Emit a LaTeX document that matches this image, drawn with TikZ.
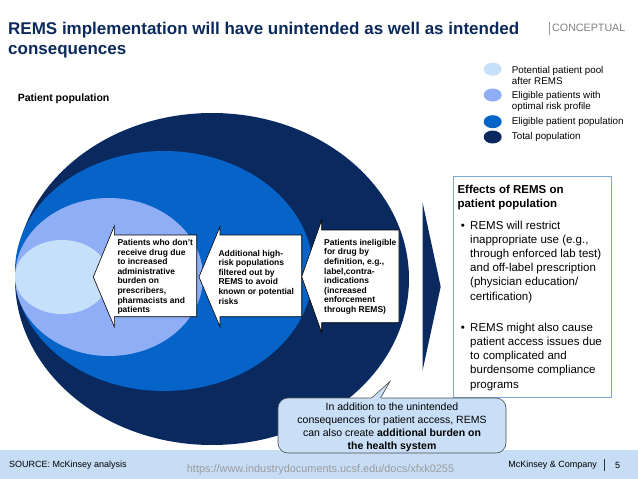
\documentclass[tikz,border=0pt]{standalone}
\usepackage{fontspec}
\setmainfont{Liberation Sans}
\usetikzlibrary{shapes.geometric,positioning}
\definecolor{totalpop}{HTML}{0A2A5F}
\definecolor{eligible}{HTML}{0664C8}
\definecolor{optimal}{HTML}{8FAEF5}
\definecolor{pool}{HTML}{C7E0FA}
\definecolor{titleblue}{HTML}{0B2A5B}
\definecolor{footband}{HTML}{C6DDF5}
\definecolor{calloutfill}{HTML}{C9DFF7}
\definecolor{boxline}{HTML}{7EA6D8}
\definecolor{urlgray}{HTML}{9C9C9C}

\begin{document}
\begin{tikzpicture}[x=1pt,y=-1pt,
    every node/.style={inner sep=0pt},
    legdot/.style={ellipse,minimum width=18pt,minimum height=13pt},
    legtext/.style={anchor=west,align=left,font=\fontsize{9.8}{11}\selectfont},
    blockarrow/.style={draw=black,fill=white,line width=0.6pt,line join=miter},
    arrowtext/.style={anchor=west,align=left,font=\fontsize{8.5}{9.6}\selectfont\bfseries},
    callout/.style={draw=black!70,fill=calloutfill,line width=0.6pt,rounded corners=10pt,minimum width=228pt,minimum height=55pt,align=center,font=\fontsize{10.5}{13.1}\selectfont},
    foot/.style={font=\fontsize{9}{11}\selectfont}
]
\useasboundingbox (0,0) rectangle (638,479);
\fill[footband] (0,450) rectangle (638,479);

% title and tag
\node[anchor=north west,align=left,text=titleblue,font=\fontsize{17}{20}\selectfont\bfseries] (title) at (8,21.6) {REMS implementation will have unintended as well as intended\\consequences};
\node[anchor=west,text=gray,font=\fontsize{10.7}{12}\selectfont] (tag) at (552,28.3) {CONCEPTUAL};
\draw[gray!80,line width=0.7pt] (549,21.5) -- (549,35);

% legend
\node[legdot,fill=pool] (dot1) at (492.7,69.2) {};
\node[legdot,fill=optimal] (dot2) at (492.7,95) {};
\node[legdot,fill=eligible] (dot3) at (492.7,121.7) {};
\node[legdot,fill=totalpop] (dot4) at (492.7,137) {};
\node[legtext] (leg1) at (511.7,75) {Potential patient pool\\after REMS};
\node[legtext] (leg2) at (511.7,101.2) {Eligible patients with\\optimal risk profile};
\node[legtext] (leg3) at (511.7,121.7) {Eligible patient population};
\node[legtext] (leg4) at (511.7,136.7) {Total population};

\node[anchor=west,font=\fontsize{10.5}{12}\selectfont\bfseries] (poplabel) at (17.6,99) {Patient population};

% population ellipses
\fill[totalpop] (212,279) ellipse [x radius=197,y radius=166];
\fill[eligible] (164,271) ellipse [x radius=149,y radius=120];
\fill[optimal] (109,277) ellipse [x radius=94,y radius=79];
\fill[pool] (62,277) ellipse [x radius=47,y radius=37];

% filter arrows
\draw[blockarrow] (301.7,276.7) -- (321.7,220) -- (321.7,230) -- (399,230) -- (399,322.7) -- (321.7,322.7) -- (321.7,332.7) -- cycle;
\draw[blockarrow] (199,277) -- (220,226.7) -- (220,235) -- (301.7,235) -- (301.7,316.7) -- (220,316.7) -- (220,326.7) -- cycle;
\draw[blockarrow] (93.3,277) -- (114.3,226) -- (114.3,235) -- (196.7,235) -- (196.7,316.7) -- (114.3,316.7) -- (114.3,326.7) -- cycle;
\node[arrowtext] (admin) at (117.3,276.8) {Patients who don't\\receive drug due\\to increased\\administrative\\burden on\\prescribers,\\pharmacists and\\patients};
\node[arrowtext] (highrisk) at (218.3,277) {Additional high-\\risk populations\\filtered out by\\REMS to avoid\\known or potential\\risks};
\node[arrowtext] (inelig) at (324,276.7) {Patients ineligible\\for drug by\\definition, e.g.,\\label,contra-\\indications\\(increased\\enforcement\\through REMS)};

% chevron
\fill[totalpop] (422.7,203) -- (440.7,286.7) -- (422.7,370) -- cycle;

% effects box
\node[draw=boxline,line width=0.6pt,minimum width=158pt,minimum height=220.7pt,anchor=north west] (effbox) at (452.7,176) {};
\node[anchor=north west,font=\fontsize{11.5}{14.2}\selectfont] (effects) at (457.3,183) {%
\begin{tabular}{@{\hspace{3.4pt}}l@{\hspace{5.3pt}}l@{}}
\multicolumn{2}{@{}l}{\textbf{Effects of REMS on}}\\
\multicolumn{2}{@{}l}{\textbf{patient population}}\\[7.5pt]
\textbullet & REMS will restrict\\
 & inappropriate use (e.g.,\\
 & through enforced lab test)\\
 & and off-label prescription\\
 & (physician education/\\
 & certification)\\[17pt]
\textbullet & REMS might also cause\\
 & patient access issues due\\
 & to complicated and\\
 & burdensome compliance\\
 & programs
\end{tabular}};

% callout
\node[callout] (note) at (392,425.5) {};
\node[align=center,font=\fontsize{10.5}{13.1}\selectfont] (notetext) at (392,427.3) {In addition to the unintended\\consequences for patient access, REMS\\can also create \textbf{additional burden on}\\\textbf{the health system}};
\coordinate (tailtip) at (390,381.5);
\fill[calloutfill] (371,398.8) -- (tailtip) -- (381,398.8) -- cycle;
\draw[black!70,line width=0.6pt] (371.5,398) -- (tailtip) -- (380.5,398);

% footer
\node[foot,anchor=west] (source) at (9,465) {SOURCE: McKinsey analysis};
\node[text=urlgray,font=\fontsize{10.9}{13}\selectfont] (url) at (320.5,470) {https://www.industrydocuments.ucsf.edu/docs/xfxk0255};
\node[foot,anchor=east] (firm) at (597,465) {McKinsey \& Company};
\draw[black!80,line width=0.9pt] (604.5,459) -- (604.5,471);
\node[foot] (page) at (617.6,465) {5};
\end{tikzpicture}
\end{document}
